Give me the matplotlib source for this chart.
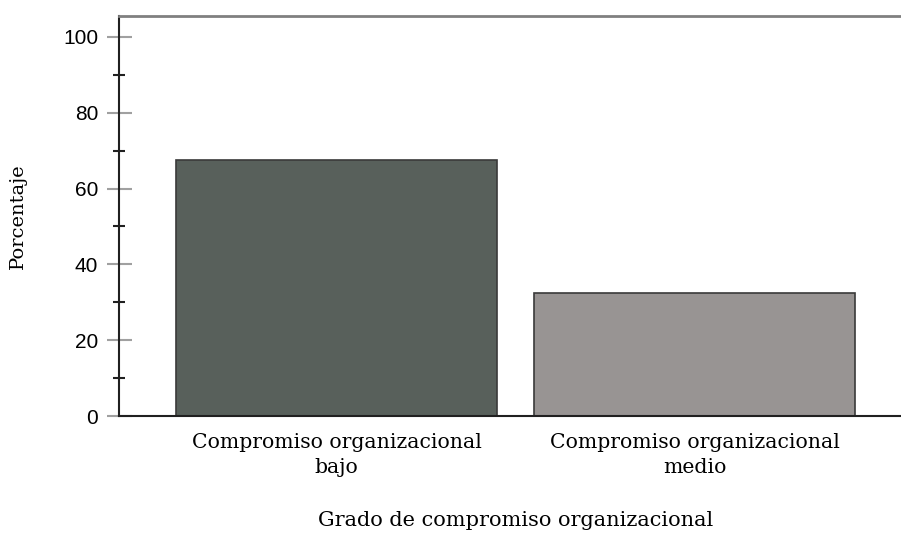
import matplotlib.pyplot as plt
from matplotlib.ticker import MultipleLocator

categories = ["Compromiso organizacional\nbajo", "Compromiso organizacional\nmedio"]
percent = [67.4, 32.5]
bar_colors = ["#58605b", "#989493"]
y_ticks = [0, 20, 40, 60, 80, 100]

fig = plt.figure(figsize=(9.01, 5.35), dpi=100)
ax = fig.add_axes([119 / 901, 1 - 416 / 535, (913 - 119) / 901, 400 / 535])

x = list(range(len(categories)))
ax.bar(x, percent, width=0.897, color=bar_colors, edgecolor="#3a3a3a", linewidth=1.2, zorder=2)

ax.set_xlim(-0.6075, 1.61)
ax.set_ylim(0, 105.5)

ax.set_xticks(x)
ax.set_xticklabels(categories, family="DejaVu Serif", fontsize=14.7, linespacing=1.45)
ax.tick_params(axis="x", length=0, pad=12)

ax.set_yticks(y_ticks)
ax.set_yticklabels([str(v) for v in y_ticks], family="Liberation Sans", fontsize=15)
ax.yaxis.set_minor_locator(MultipleLocator(10))
ax.tick_params(axis="y", which="major", direction="inout", length=18, width=1.5,
               color="#a0a0a0", pad=6)
ax.tick_params(axis="y", which="minor", direction="inout", length=8, width=1.5,
               color="#202020")

ax.spines["right"].set_visible(False)
ax.spines["left"].set_color("#202020")
ax.spines["left"].set_linewidth(1.5)
ax.spines["bottom"].set_color("#202020")
ax.spines["bottom"].set_linewidth(1.5)
ax.spines["top"].set_color("#808080")
ax.spines["top"].set_linewidth(2)

ax.set_ylabel("Porcentaje", family="DejaVu Serif", fontsize=14, labelpad=26)
ax.set_xlabel("Grado de compromiso organizacional", family="DejaVu Serif", fontsize=15, labelpad=24)

fig.savefig("out.png", dpi=100)
